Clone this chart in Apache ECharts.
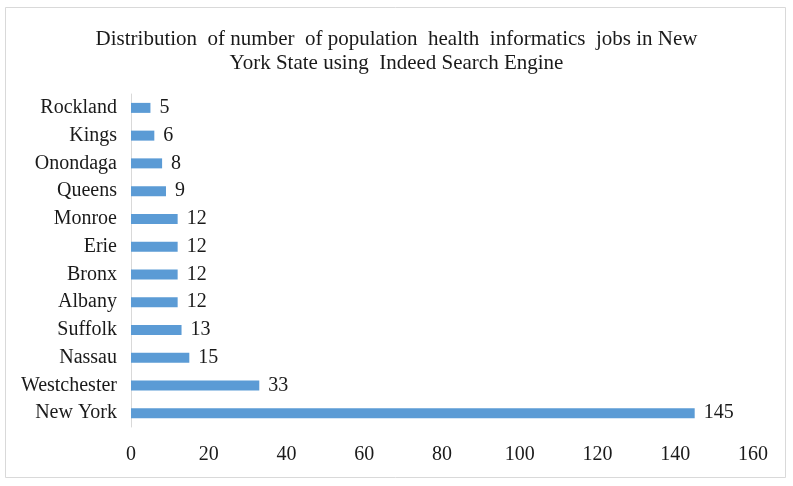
<!DOCTYPE html>
<html>
<head>
<meta charset="utf-8">
<script src="https://cdn.jsdelivr.net/npm/echarts@6/dist/echarts.min.js"></script>
<style>
  html, body { margin: 0; padding: 0; background: #fff; }
  #chart { width: 793px; height: 486px; }
</style>
</head>
<body>
<div id="chart"></div>
<script>
// categories listed bottom to top (category axis starts at the bottom)
let counties = ['New York', 'Westchester', 'Nassau', 'Suffolk', 'Albany', 'Bronx',
    'Erie', 'Monroe', 'Queens', 'Onondaga', 'Kings', 'Rockland'];
let jobs = [145, 33, 15, 13, 12, 12, 12, 12, 9, 8, 6, 5];
let x_ticks = [0, 20, 40, 60, 80, 100, 120, 140, 160];

let serif = '"Liberation Serif", "DejaVu Serif", serif';

let chart = echarts.init(document.getElementById('chart'));

let option = {
    animation: false,
    backgroundColor: '#fff',
    title: {
        text: 'Distribution  of number  of population  health  informatics  jobs in New\nYork State using  Indeed Search Engine',
        left: 'center',
        top: 22,
        textStyle: {
            color: '#1a1a1a',
            fontFamily: serif,
            fontWeight: 'normal',
            fontSize: 21,
            lineHeight: 24,
        },
    },
    graphic: [{
        type: 'rect',
        shape: {x: 5.5, y: 7.5, width: 780, height: 470},
        style: {fill: 'none', stroke: '#d9d9d9', lineWidth: 1},
        silent: true,
    }],
    grid: {left: 131, right: 40, top: 94, bottom: 59},
    xAxis: {
        type: 'value',
        min: x_ticks[0],
        max: x_ticks[x_ticks.length - 1],
        interval: 20,
        axisLine: {show: false},
        axisTick: {show: false},
        splitLine: {show: false},
        axisLabel: {
            color: '#1a1a1a',
            fontFamily: serif,
            fontSize: 20,
            margin: 18,
        },
    },
    yAxis: {
        type: 'category',
        data: counties,
        axisLine: {show: true, lineStyle: {color: '#d9d9d9', width: 1}},
        axisTick: {show: false},
        axisLabel: {
            color: '#1a1a1a',
            fontFamily: serif,
            fontSize: 20,
            margin: 14,
        },
    },
    series: [{
        type: 'bar',
        data: jobs,
        barWidth: 10,
        itemStyle: {color: '#5b9bd5'},
        label: {
            show: true,
            position: 'right',
            distance: 9,
            color: '#1a1a1a',
            fontFamily: serif,
            fontSize: 20,
        },
    }],
};

chart.setOption(option);
</script>
</body>
</html>
